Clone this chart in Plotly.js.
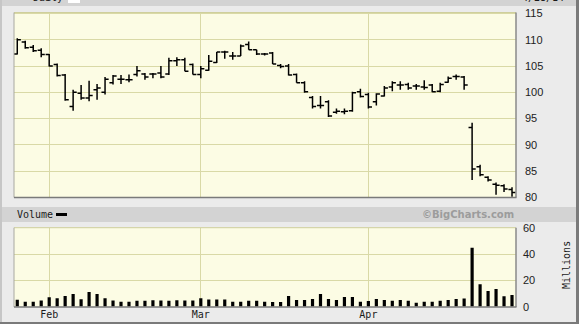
<!DOCTYPE html>
<html>
<head>
<meta charset="utf-8">
<script src="https://cdn.plot.ly/plotly-3.0.1.min.js"></script>
<style>html,body{margin:0;padding:0;background:#fff;}#chart{width:579px;height:335px;}</style>
</head>
<body>
<div id="chart"></div>
<script>
// ---- data ----
const dayIndex = Array.from({length: 63}, (_, i) => i);
const openP  = [107.3,109.6,108.6,108.0,107.2,105.3,103.3,97.3,99.8,98.9,100.5,100.0,101.8,102.5,102.4,103.4,103.5,103.5,103.7,103.5,106.0,106.2,105.3,103.4,104.2,105.7,107.7,106.9,106.9,109.1,108.1,107.3,107.5,105.1,105.0,103.4,101.8,99.0,97.5,98.2,96.2,96.3,96.5,100.1,99.6,98.2,99.3,101.0,101.4,101.5,101.2,101.0,101.4,100.2,101.9,103.0,102.9,93.3,85.8,83.8,82.5,82.2,81.5];
const highP  = [110.3,109.8,109.0,108.4,107.3,105.5,103.5,100.5,101.4,102.2,101.6,102.9,103.3,103.3,103.4,105.0,103.7,103.7,105.0,106.6,106.7,106.6,105.5,105.0,107.1,107.7,107.9,107.7,109.1,109.7,108.1,107.5,107.7,105.4,105.4,103.6,102.1,99.3,99.3,98.5,96.9,96.9,100.1,100.7,99.9,99.8,101.2,102.1,102.1,101.8,101.6,102.3,101.6,101.8,103.0,103.4,103.1,94.2,86.2,84.0,82.8,82.5,81.9];
const lowP   = [107.2,108.3,107.7,106.7,104.9,103.0,98.4,96.5,98.6,98.3,98.6,99.6,101.5,101.6,101.9,103.0,102.4,102.7,102.7,103.3,105.0,104.0,103.4,102.7,104.1,105.6,106.4,106.2,106.9,108.1,107.1,107.0,105.4,104.6,103.2,101.8,99.9,96.9,96.9,95.3,95.9,95.8,96.3,99.0,96.9,97.5,99.2,100.2,100.5,100.5,100.5,100.5,100.0,100.0,101.8,102.4,100.5,83.3,84.0,83.0,80.5,81.0,80.1];
const closeP = [110.0,108.5,107.9,107.2,105.0,103.2,98.6,100.0,98.9,99.4,100.8,102.5,103.1,102.5,102.4,104.1,102.9,103.5,102.9,106.0,106.2,104.0,103.4,104.5,105.9,107.7,107.7,106.9,108.8,108.1,107.3,107.3,105.4,104.9,103.3,101.8,100.1,97.3,97.5,95.5,96.4,96.4,99.9,99.2,97.2,99.7,100.8,101.8,101.4,100.8,101.2,100.9,100.1,101.5,102.7,103.0,101.4,85.4,84.3,83.3,82.3,81.6,80.9];
const volumeM = [5.3,3.8,3.8,4.7,7.3,6.5,8.2,9.7,5.7,11.3,9.7,6.4,4.7,3.8,3.8,4.6,4.6,5.0,4.8,4.5,5.0,4.8,4.8,6.4,5.6,5.6,5.6,3.8,3.8,4.5,4.6,3.8,3.7,3.7,8.2,5.1,5.1,5.9,9.7,5.9,5.1,7.4,7.4,3.8,4.4,5.9,5.1,4.6,5.1,4.6,3.1,3.8,3.8,4.6,5.1,5.9,6.2,45.2,17.3,12.0,13.5,8.0,9.0];
const monthLabels = ["Feb", "Mar", "Apr"];
const monthFirstIdx = [4, 23, 44];
const priceTicks = [80, 85, 90, 95, 100, 105, 110, 115];
const volumeTicks = [0, 20, 40, 60];
const headerLeft = "Daily";
const headerRight = "4/28/14";

// ---- layout helpers (pixel -> paper) ----
const W = 579, H = 335;
const px = x => x / W;
const py = y => 1 - y / H;

const gridC = '#d9d9a6';
const bgPlot = '#fcfce4';
const monoFont = {family: 'DejaVu Sans Mono, monospace', size: 10, color: '#1a1a1a'};
const tickFont = {family: 'Liberation Sans, Arial, sans-serif', size: 11, color: '#222'};

const xCommon = {
  domain: [px(14), px(516)],
  range: [-0.41, 62.5],
  tickvals: monthFirstIdx,
  ticktext: monthLabels,
  showgrid: true, gridcolor: gridC, gridwidth: 1,
  zeroline: false, ticks: '', showline: false, fixedrange: true
};

const traces = [
  {
    type: 'ohlc', x: dayIndex, open: openP, high: highP, low: lowP, close: closeP,
    xaxis: 'x', yaxis: 'y', tickwidth: 0.45,
    increasing: {line: {color: '#000', width: 1.5}},
    decreasing: {line: {color: '#000', width: 1.5}},
    hoverinfo: 'skip', showlegend: false
  },
  {
    type: 'bar', x: dayIndex, y: volumeM, xaxis: 'x2', yaxis: 'y2',
    width: 0.4, marker: {color: '#000', line: {width: 0}},
    hoverinfo: 'skip', showlegend: false
  }
];

const shapes = [
  // white area outside the frame
  {type:'rect', xref:'paper', yref:'paper', x0:0, x1:1, y0:0, y1:py(324), fillcolor:'#ffffff', line:{width:0}, layer:'below'},
  // left strip
  {type:'rect', xref:'paper', yref:'paper', x0:0, x1:px(2), y0:py(324), y1:1, fillcolor:'#c6c6c6', line:{width:0}, layer:'below'},
  // right dark border
  {type:'rect', xref:'paper', yref:'paper', x0:px(576), x1:px(579), y0:py(324), y1:1, fillcolor:'#7a7a7a', line:{width:0}, layer:'below'},
  // bottom dark border
  {type:'rect', xref:'paper', yref:'paper', x0:0, x1:1, y0:py(324), y1:py(322), fillcolor:'#7a7a7a', line:{width:0}, layer:'below'},
  // top header band
  {type:'rect', xref:'paper', yref:'paper', x0:px(2), x1:px(576), y0:py(6), y1:1, fillcolor:'#d3d3d3', line:{width:0}, layer:'below'},
  {type:'rect', xref:'paper', yref:'paper', x0:px(68), x1:px(80), y0:py(3), y1:1, fillcolor:'#ffffff', line:{width:0}, layer:'below'},
  // volume header band
  {type:'rect', xref:'paper', yref:'paper', x0:px(2), x1:px(576), y0:py(222), y1:py(207), fillcolor:'#d3d3d3', line:{width:0}, layer:'below'},
  // volume legend swatch
  {type:'rect', xref:'paper', yref:'paper', x0:px(56), x1:px(67), y0:py(216), y1:py(213), fillcolor:'#000', line:{width:0}},
  // price plot borders
  {type:'line', xref:'paper', yref:'paper', x0:px(14), x1:px(516), y0:py(12.5), y1:py(12.5), line:{color:'#cfcf9c', width:1}},
  {type:'line', xref:'paper', yref:'paper', x0:px(14), x1:px(14), y0:py(12.5), y1:py(197.5), line:{color:'#a8a8a0', width:1}},
  {type:'line', xref:'paper', yref:'paper', x0:px(516), x1:px(516), y0:py(12.5), y1:py(197.5), line:{color:'#8a8a8a', width:1.5}},
  {type:'line', xref:'paper', yref:'paper', x0:px(14), x1:px(516.5), y0:py(197.5), y1:py(197.5), line:{color:'#7a7a7a', width:1.5}},
  // volume plot borders
  {type:'line', xref:'paper', yref:'paper', x0:px(14), x1:px(516), y0:py(227.7), y1:py(227.7), line:{color:'#cfcf9c', width:1}},
  {type:'line', xref:'paper', yref:'paper', x0:px(14), x1:px(14), y0:py(227.7), y1:py(307), line:{color:'#a8a8a0', width:1}},
  {type:'line', xref:'paper', yref:'paper', x0:px(516), x1:px(516), y0:py(227.7), y1:py(307), line:{color:'#8a8a8a', width:1.5}},
  {type:'line', xref:'paper', yref:'paper', x0:px(14), x1:px(516.5), y0:py(307), y1:py(307), line:{color:'#7a7a7a', width:1.5}}
];

const annotations = [
  {xref:'paper', yref:'paper', x:px(15), y:py(214.5), xanchor:'left', yanchor:'middle', text:'Volume', showarrow:false, font:monoFont},
  {xref:'paper', yref:'paper', x:px(516), y:py(214.5), xanchor:'right', yanchor:'middle', text:'©BigCharts.com', showarrow:false,
   font:{family:'DejaVu Sans, Verdana, sans-serif', size:10, color:'#9c9c9c', weight:'bold'}},
  {xref:'paper', yref:'paper', x:px(566), y:py(265), xanchor:'center', yanchor:'middle', textangle:-90, text:'Millions', showarrow:false, font:monoFont},
  {xref:'paper', yref:'paper', x:px(31), y:py(-2), xanchor:'left', yanchor:'middle', text:headerLeft, showarrow:false, font:monoFont},
  {xref:'paper', yref:'paper', x:px(566), y:py(-2), xanchor:'right', yanchor:'middle', text:headerRight, showarrow:false, font:monoFont}
];

const layout = {
  width: W, height: H,
  margin: {l:0, r:0, t:0, b:0, pad:0},
  paper_bgcolor: '#ebebeb',
  plot_bgcolor: bgPlot,
  showlegend: false,
  xaxis: Object.assign({}, xCommon, {anchor:'y', showticklabels:false, rangeslider:{visible:false}}),
  xaxis2: Object.assign({}, xCommon, {anchor:'y2', showticklabels:true, tickfont:monoFont, rangeslider:{visible:false}}),
  yaxis: {
    domain: [py(197.3), py(12.5)], range: [80, 115.2], side:'right', anchor:'x',
    tickvals: priceTicks, showgrid:true, gridcolor:gridC, zeroline:false, ticks:'',
    tickfont: tickFont, ticklabelstandoff: 8, fixedrange:true
  },
  yaxis2: {
    domain: [py(306.7), py(227.7)], range: [0, 60.6], side:'right', anchor:'x2',
    tickvals: volumeTicks, showgrid:true, gridcolor:gridC, zeroline:false, ticks:'',
    tickfont: tickFont, ticklabelstandoff: 6, fixedrange:true
  },
  shapes: shapes,
  annotations: annotations
};

Plotly.newPlot('chart', traces, layout, {staticPlot:true, displayModeBar:false});
</script>
</body>
</html>
